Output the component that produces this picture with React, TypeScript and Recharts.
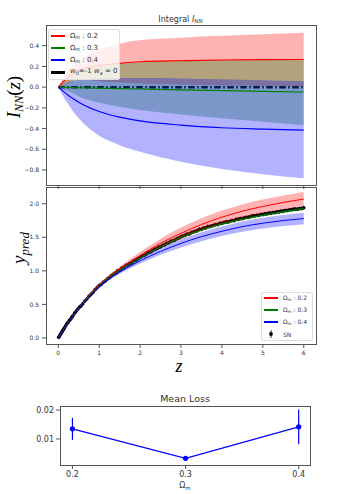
import React from 'react';
import {
  ComposedChart,
  Line,
  Area,
  Scatter,
  ErrorBar,
  XAxis,
  YAxis,
} from 'recharts';

// ---- top panel: integral I_NN(z) ----
const topZ = [0, 0.25, 0.5, 1, 1.5, 2, 3, 4, 5, 6];
const redMean = [0, 0.1, 0.16, 0.21, 0.23, 0.245, 0.255, 0.262, 0.265, 0.267];
const redLow = [0, 0.04, 0.075, 0.056, 0.045, 0.036, 0.025, 0.016, 0.01, 0.006];
const redHigh = [0, 0.16, 0.245, 0.364, 0.42, 0.454, 0.478, 0.495, 0.51, 0.525];
const greenMean = [0, -0.003, -0.006, -0.01, -0.014, -0.018, -0.026, -0.033, -0.04, -0.047];
const greenLow = [0, -0.04, -0.09, -0.15, -0.19, -0.22, -0.265, -0.3, -0.335, -0.367];
const greenHigh = [0, 0.09, 0.15, 0.2, 0.225, 0.24, 0.255, 0.262, 0.265, 0.267];
const blueMean = [0, -0.08, -0.145, -0.235, -0.29, -0.326, -0.367, -0.392, -0.405, -0.415];
const blueLow = [0, -0.17, -0.3, -0.47, -0.56, -0.625, -0.72, -0.79, -0.84, -0.88];
const blueHigh = [0, 0.05, 0.07, 0.085, 0.088, 0.088, 0.084, 0.075, 0.066, 0.058];
const lcdmRef = [0, 0, 0, 0, 0, 0, 0, 0, 0, 0];
const topYTicks = [-0.8, -0.6, -0.4, -0.2, 0, 0.2, 0.4];

// ---- middle panel: y_pred ----
const midZ = [0, 0.25, 0.5, 0.75, 1, 1.5, 2, 2.5, 3, 3.5, 4, 4.5, 5, 5.5, 6];
const redPred = [0, 0.24, 0.44, 0.63, 0.79, 1.03, 1.23, 1.41, 1.56, 1.69, 1.8, 1.89, 1.96, 2.02, 2.07];
const greenPred = [0, 0.24, 0.44, 0.62, 0.78, 1.01, 1.19, 1.36, 1.5, 1.61, 1.7, 1.77, 1.83, 1.88, 1.93];
const bluePred = [0, 0.24, 0.44, 0.61, 0.77, 0.98, 1.15, 1.29, 1.41, 1.51, 1.59, 1.66, 1.71, 1.75, 1.78];
const redSpread = [0, 0.002, 0.005, 0.01, 0.016, 0.03, 0.05, 0.07, 0.085, 0.093, 0.098, 0.1, 0.102, 0.104, 0.105];
const greenSpread = [0, 0.001, 0.002, 0.004, 0.005, 0.007, 0.009, 0.011, 0.013, 0.014, 0.015, 0.016, 0.017, 0.018, 0.019];
const blueSpread = [0, 0.002, 0.005, 0.009, 0.014, 0.025, 0.04, 0.05, 0.06, 0.067, 0.072, 0.077, 0.08, 0.083, 0.085];
const midYTicks = [0, 0.5, 1, 1.5, 2];
const zTicks = [0, 1, 2, 3, 4, 5, 6];

// SN points (z, distance)
const snZ = [
  0.01, 0.03, 0.05, 0.07, 0.09, 0.11, 0.13, 0.15, 0.18, 0.21, 0.24, 0.27, 0.3, 0.33, 0.36, 0.4,
  0.44, 0.48, 0.52, 0.56, 0.6, 0.65, 0.7, 0.75, 0.8, 0.85, 0.9, 0.95,
  1.0, 1.05, 1.1, 1.15, 1.2, 1.25, 1.3, 1.35, 1.4, 1.45, 1.5, 1.55, 1.6, 1.65, 1.7, 1.75, 1.8,
  1.85, 1.9, 1.95, 2.0, 2.05, 2.1, 2.15, 2.2, 2.25, 2.3, 2.35, 2.4, 2.45, 2.5, 2.55, 2.6, 2.65,
  2.7, 2.75, 2.8, 2.85, 2.9, 2.95, 3.0, 3.05, 3.1, 3.15, 3.2, 3.25, 3.3, 3.35, 3.4, 3.45, 3.5,
  3.55, 3.6, 3.65, 3.7, 3.75, 3.8, 3.85, 3.9, 3.95, 4.0, 4.05, 4.1, 4.15, 4.2, 4.25, 4.3, 4.35,
  4.4, 4.45, 4.5, 4.55, 4.6, 4.65, 4.7, 4.75, 4.8, 4.85, 4.9, 4.95, 5.0, 5.05, 5.1, 5.15, 5.2,
  5.25, 5.3, 5.35, 5.4, 5.45, 5.5, 5.55, 5.6, 5.65, 5.7, 5.75, 5.8, 5.85, 5.9, 5.95, 6.0,
];
const snY = [
  0.01, 0.03, 0.05, 0.07, 0.09, 0.11, 0.13, 0.15, 0.18, 0.21, 0.23, 0.26, 0.28, 0.31, 0.33, 0.37,
  0.4, 0.43, 0.46, 0.48, 0.51, 0.55, 0.58, 0.62, 0.65, 0.68, 0.72, 0.75,
  0.78, 0.8, 0.83, 0.85, 0.88, 0.9, 0.93, 0.95, 0.97, 1.0, 1.01, 1.04, 1.05, 1.08, 1.09, 1.11, 1.12,
  1.15, 1.16, 1.18, 1.2, 1.22, 1.23, 1.25, 1.27, 1.28, 1.3, 1.32, 1.33, 1.35, 1.36, 1.38, 1.39, 1.41,
  1.42, 1.44, 1.45, 1.46, 1.48, 1.49, 1.51, 1.52, 1.53, 1.55, 1.55, 1.57, 1.58, 1.59, 1.6, 1.62, 1.62,
  1.64, 1.64, 1.66, 1.66, 1.67, 1.68, 1.69, 1.69, 1.71, 1.71, 1.72, 1.73, 1.73, 1.74, 1.75, 1.75, 1.77,
  1.77, 1.78, 1.78, 1.79, 1.8, 1.8, 1.81, 1.82, 1.82, 1.83, 1.83, 1.84, 1.84, 1.85, 1.85, 1.86, 1.86,
  1.87, 1.87, 1.88, 1.88, 1.89, 1.89, 1.9, 1.9, 1.91, 1.91, 1.92, 1.92, 1.92, 1.93, 1.93, 1.94,
];
const snErr = 0.03;

// ---- bottom panel: mean loss ----
const omegaM = [0.2, 0.3, 0.4];
const meanLoss = [0.0135, 0.0033, 0.0142];
const lossErr = [0.0038, 0.0005, 0.006];

const RED = '#ff0000';
const GREEN = '#008000';
const BLUE = '#0000ff';
const SPINE = '#555';
const TXT = '#333';
const SANS = 'DejaVu Sans, sans-serif';
const SERIF = 'Liberation Serif, DejaVu Serif, serif';

const topData = topZ.map((z, i) => ({
  z,
  red: redMean[i],
  redBand: [redLow[i], redHigh[i]],
  green: greenMean[i],
  greenBand: [greenLow[i], greenHigh[i]],
  blue: blueMean[i],
  blueBand: [blueLow[i], blueHigh[i]],
  ref: lcdmRef[i],
}));

const midData = midZ.map((z, i) => ({
  z,
  red: redPred[i],
  redBand: [redPred[i] - redSpread[i], redPred[i] + redSpread[i]],
  green: greenPred[i],
  greenBand: [greenPred[i] - greenSpread[i], greenPred[i] + greenSpread[i]],
  blue: bluePred[i],
  blueBand: [bluePred[i] - blueSpread[i], bluePred[i] + blueSpread[i]],
}));

const snData = snZ.map((z, i) => ({ z, y: snY[i], e: snErr }));

const lossData = omegaM.map((om, i) => ({ om, loss: meanLoss[i], err: lossErr[i] }));

const fmtMinus = (v: number) => (v < 0 ? '\u2212' + Math.abs(v).toFixed(1) : v.toFixed(1));

const tickStyle = { fill: TXT, fontSize: 6, fontFamily: SANS };

// axes shared by the base layer and the transparent overlay layer of a panel
const zAxis = (height: number, visible: boolean, labels: boolean) => (
  <XAxis
    type="number"
    dataKey="z"
    domain={[-0.3, 6.3]}
    ticks={zTicks}
    height={height}
    axisLine={false}
    tickSize={4}
    tickMargin={3}
    tickLine={visible ? { stroke: SPINE } : false}
    tick={visible ? tickStyle : false}
    tickFormatter={labels ? undefined : () => ''}
    allowDataOverflow
  />
);

const valAxis = (domain: number[], ticks: number[], visible: boolean, fmt: (v: number) => string) => (
  <YAxis
    type="number"
    domain={domain}
    ticks={ticks}
    width={40}
    axisLine={false}
    tickSize={4}
    tickMargin={3}
    tickLine={visible ? { stroke: SPINE } : false}
    tick={visible ? tickStyle : false}
    tickFormatter={fmt}
    allowDataOverflow
  />
);

const Frame = ({ x, y, w, h }: { x: number; y: number; w: number; h: number }) => (
  <div
    style={{
      position: 'absolute',
      left: x,
      top: y,
      width: w,
      height: h,
      border: `1px solid ${SPINE}`,
      boxSizing: 'border-box',
      pointerEvents: 'none',
    }}
  />
);

const Om = ({ v }: { v: string }) => (
  <span>
    Ω<sub style={{ fontSize: '0.7em', verticalAlign: '-0.2em' }}>m</sub>
    {' : ' + v}
  </span>
);

const LegendRow = ({
  color,
  width = 1.5,
  children,
  top,
}: {
  color: string;
  width?: number;
  children: React.ReactNode;
  top: number;
}) => (
  <div style={{ position: 'absolute', left: 2, top, display: 'flex', alignItems: 'center', height: 10 }}>
    <div style={{ width: 14, height: width, background: color }} />
    <div style={{ marginLeft: 5, whiteSpace: 'nowrap' }}>{children}</div>
  </div>
);

const abs = (top: number): React.CSSProperties => ({ position: 'absolute', left: 0, top });

export default function App() {
  const topMargin = { top: 25, right: 28, bottom: 5, left: 6 };
  const midMargin = { top: 7, right: 28, bottom: 6, left: 6 };
  return (
    <div
      style={{
        position: 'absolute',
        left: 0,
        top: 0,
        width: 344,
        height: 494,
        background: '#fff',
        fontFamily: SANS,
      }}
    >
      {/* Top panel: base layer with the reference line */}
      <div style={abs(0)}>
        <ComposedChart width={344} height={200} data={topData} margin={topMargin}>
          {zAxis(10, true, false)}
          {valAxis([-0.945, 0.6], topYTicks, true, fmtMinus)}
          <Line
            dataKey="ref"
            stroke="#000"
            strokeWidth={2.5}
            strokeDasharray="6.5 2.5 1.5 2.5"
            dot={false}
            isAnimationActive={false}
          />
        </ComposedChart>
      </div>
      {/* Top panel: bands and means */}
      <div style={abs(0)}>
        <ComposedChart width={344} height={200} data={topData} margin={topMargin}>
          {zAxis(10, false, false)}
          {valAxis([-0.945, 0.6], topYTicks, false, fmtMinus)}
          <Area dataKey="redBand" type="monotone" fill={RED} fillOpacity={0.3} stroke="none" isAnimationActive={false} />
          <Area dataKey="greenBand" type="monotone" fill={GREEN} fillOpacity={0.3} stroke="none" isAnimationActive={false} />
          <Area dataKey="blueBand" type="monotone" fill={BLUE} fillOpacity={0.3} stroke="none" isAnimationActive={false} />
          <Line dataKey="red" type="monotone" stroke={RED} strokeWidth={1.2} dot={false} isAnimationActive={false} />
          <Line dataKey="green" type="monotone" stroke={GREEN} strokeWidth={1.2} dot={false} isAnimationActive={false} />
          <Line dataKey="blue" type="monotone" stroke={BLUE} strokeWidth={1.2} dot={false} isAnimationActive={false} />
        </ComposedChart>
      </div>
      <Frame x={46} y={25} w={271} h={161} />
      <div
        style={{
          position: 'absolute',
          left: 48,
          top: 29,
          width: 72,
          height: 51,
          background: 'rgba(255,255,255,0.8)',
          border: '1px solid #ddd',
          borderRadius: 2,
          boxSizing: 'border-box',
          fontSize: 7,
          color: TXT,
        }}
      >
        <LegendRow color={RED} top={1}>
          <Om v="0.2" />
        </LegendRow>
        <LegendRow color={GREEN} top={13}>
          <Om v="0.3" />
        </LegendRow>
        <LegendRow color={BLUE} top={25}>
          <Om v="0.4" />
        </LegendRow>
        <LegendRow color="#000" width={3} top={37}>
          <span>
            <i>w</i>
            <sub style={{ fontSize: '0.7em' }}>0</sub>=-1 <i>w</i>
            <sub style={{ fontSize: '0.7em' }}>a</sub> = 0
          </span>
        </LegendRow>
      </div>

      {/* Middle panel: base layer with SN data */}
      <div style={abs(180)}>
        <ComposedChart width={344} height={190} data={midData} margin={midMargin}>
          {zAxis(20, true, true)}
          {valAxis([-0.09, 2.25], midYTicks, true, (v: number) => v.toFixed(1))}
          <Scatter
            data={snData}
            dataKey="y"
            fill="#000"
            isAnimationActive={false}
            shape={(p: any) => <circle cx={p.cx} cy={p.cy} r={1.8} fill="#000" />}
          >
            <ErrorBar dataKey="e" direction="y" width={0} stroke="#000" strokeWidth={0.7} />
          </Scatter>
        </ComposedChart>
      </div>
      {/* Middle panel: predictions */}
      <div style={abs(180)}>
        <ComposedChart width={344} height={190} data={midData} margin={midMargin}>
          {zAxis(20, false, true)}
          {valAxis([-0.09, 2.25], midYTicks, false, (v: number) => v.toFixed(1))}
          <Area dataKey="redBand" type="monotone" fill={RED} fillOpacity={0.3} stroke="none" isAnimationActive={false} />
          <Area dataKey="greenBand" type="monotone" fill={GREEN} fillOpacity={0.3} stroke="none" isAnimationActive={false} />
          <Area dataKey="blueBand" type="monotone" fill={BLUE} fillOpacity={0.3} stroke="none" isAnimationActive={false} />
          <Line dataKey="red" type="monotone" stroke={RED} strokeWidth={1} dot={false} isAnimationActive={false} />
          <Line dataKey="green" type="monotone" stroke={GREEN} strokeWidth={1} dot={false} isAnimationActive={false} />
          <Line dataKey="blue" type="monotone" stroke={BLUE} strokeWidth={1} dot={false} isAnimationActive={false} />
        </ComposedChart>
      </div>
      <Frame x={46} y={187} w={271} h={158} />
      <div
        style={{
          position: 'absolute',
          left: 261,
          top: 292,
          width: 52,
          height: 49,
          background: 'rgba(255,255,255,0.8)',
          border: '1px solid #ddd',
          borderRadius: 2,
          boxSizing: 'border-box',
          fontSize: 6,
          color: TXT,
        }}
      >
        <LegendRow color={RED} top={0}>
          <Om v="0.2" />
        </LegendRow>
        <LegendRow color={GREEN} top={12}>
          <Om v="0.3" />
        </LegendRow>
        <LegendRow color={BLUE} top={24}>
          <Om v="0.4" />
        </LegendRow>
        <div style={{ position: 'absolute', left: 2, top: 36, display: 'flex', alignItems: 'center', height: 10 }}>
          <svg width={14} height={10}>
            <line x1={7} y1={1} x2={7} y2={9} stroke="#000" strokeWidth={0.8} />
            <circle cx={7} cy={5} r={1.9} fill="#000" />
          </svg>
          <div style={{ marginLeft: 5 }}>SN</div>
        </div>
      </div>

      {/* Bottom panel: mean loss */}
      <div style={abs(390)}>
        <ComposedChart width={344} height={104} data={lossData} margin={{ top: 16, right: 34, bottom: 9, left: 20 }}>
          <XAxis
            type="number"
            dataKey="om"
            domain={[0.189, 0.41]}
            ticks={omegaM}
            height={20}
            axisLine={false}
            tickSize={4}
            tickMargin={2}
            tickLine={{ stroke: SPINE }}
            tick={{ ...tickStyle, fontSize: 8 }}
            tickFormatter={(v: number) => v.toFixed(1)}
            allowDataOverflow
          />
          <YAxis
            type="number"
            domain={[0.001, 0.0214]}
            ticks={[0.01, 0.02]}
            width={40}
            axisLine={false}
            tickSize={4}
            tickMargin={2}
            tickLine={{ stroke: SPINE }}
            tick={{ ...tickStyle, fontSize: 8 }}
            tickFormatter={(v: number) => v.toFixed(2)}
            allowDataOverflow
          />
          <Line
            dataKey="loss"
            stroke={BLUE}
            strokeWidth={1.2}
            dot={{ r: 2.6, fill: BLUE, stroke: BLUE, strokeWidth: 0 }}
            isAnimationActive={false}
          >
            <ErrorBar dataKey="err" direction="y" width={0} stroke={BLUE} strokeWidth={1.2} />
          </Line>
        </ComposedChart>
      </div>
      <Frame x={60} y={406} w={251} h={60} />

      {/* Titles and axis labels */}
      <svg width={344} height={494} style={{ position: 'absolute', left: 0, top: 0, pointerEvents: 'none' }}>
        <text x={180.5} y={21.5} textAnchor="middle" fontSize={8} fontFamily={SANS} fill={TXT}>
          Integral{' '}
          <tspan fontStyle="italic">I</tspan>
          <tspan fontStyle="italic" fontSize={5.6} dy={1.5}>
            NN
          </tspan>
        </text>
        <text
          x={0}
          y={0}
          transform="translate(20,97) rotate(-90)"
          textAnchor="middle"
          fontSize={19}
          fontFamily={SERIF}
          fill="#000"
        >
          <tspan fontStyle="italic">I</tspan>
          <tspan fontStyle="italic" fontSize={12} dy={3}>
            NN
          </tspan>
          <tspan dy={-3}>(</tspan>
          <tspan fontStyle="italic">z</tspan>
          <tspan>)</tspan>
        </text>
        <text
          x={0}
          y={0}
          transform="translate(25,248) rotate(-90)"
          textAnchor="middle"
          fontSize={19}
          fontFamily={SERIF}
          fill="#000"
        >
          <tspan fontStyle="italic">y</tspan>
          <tspan fontStyle="italic" fontSize={13} dy={4}>
            pred
          </tspan>
        </text>
        <text x={179} y={372} textAnchor="middle" fontSize={18} fontStyle="italic" fontFamily={SERIF} fill="#000">
          z
        </text>
        <text x={185} y={402} textAnchor="middle" fontSize={9.5} fontFamily={SANS} fill={TXT}>
          Mean Loss
        </text>
        <text x={185} y={488} textAnchor="middle" fontSize={8} fontFamily={SANS} fill={TXT}>
          Ω
          <tspan fontSize={5.6} dy={1.5}>
            m
          </tspan>
        </text>
      </svg>
    </div>
  );
}
